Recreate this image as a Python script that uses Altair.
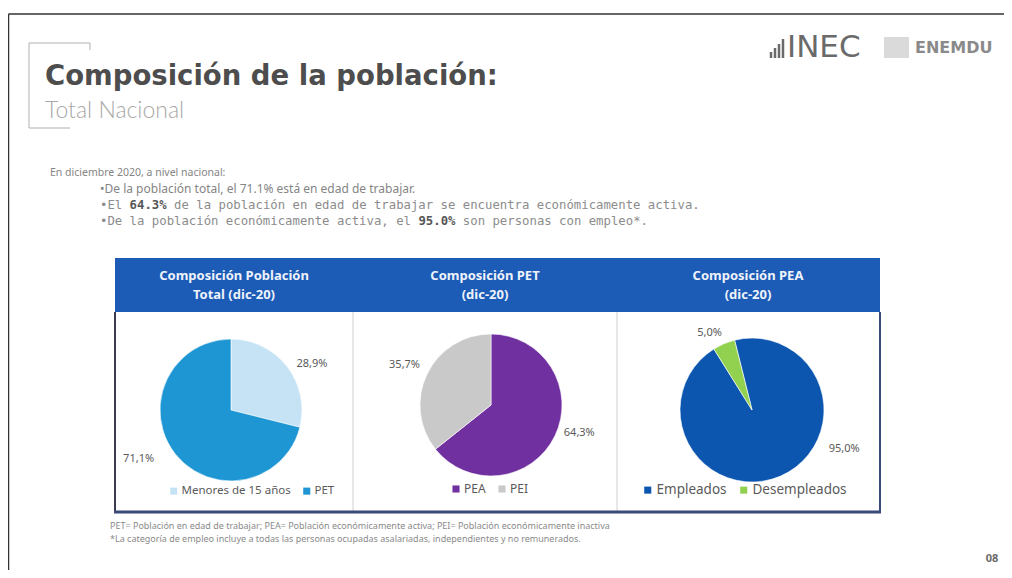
import math
import altair as alt
import pandas as pd

# ---------------- data ----------------
pie1_cats = ["Menores de 15 años", "PET"]
pie1_vals = [28.9, 71.1]
pie2_cats = ["PEA", "PEI"]
pie2_vals = [64.3, 35.7]
pie3_cats = ["Empleados", "Desempleados"]
pie3_vals = [95.0, 5.0]

headers = ["Composición Población\nTotal (dic-20)", "Composición PET\n(dic-20)", "Composición PEA\n(dic-20)"]
title_text = "Composición de la población:"
subtitle_text = "Total Nacional"
intro_text = "En diciembre 2020, a nivel nacional:"
bullets = [
    "•De la población total, el 71.1% está en edad de trabajar.",
    "•El 64.3% de la población en edad de trabajar se encuentra económicamente activa.",
    "•De la población económicamente activa, el 95.0% son personas con empleo*.",
]
bold_parts = ["71.1%", "64.3%", "95.0%"]
footnotes = [
    "PET= Población en edad de trabajar; PEA= Población económicamente activa; PEI= Población económicamente inactiva",
    "*La categoría de empleo incluye a todas las personas ocupadas asalariadas, independientes y no remunerados.",
]
page_number = "08"

# ---------------- helpers ----------------
OFF = 8  # page margin
FONT = "Noto Sans"
MONO = "DejaVu Sans Mono"
MONO_ADV = 1233 / 2048  # advance width of DejaVu Sans Mono, in em
one = pd.DataFrame({"k": [0]})


def P(v):
    return v - OFF


def txt(text, x, y, size=11, color="#6b6b6b", weight="normal", align="left", font=FONT, **kw):
    return alt.Chart(pd.DataFrame({"t": [text]})).mark_text(
        align=align, baseline="middle", fontSize=size, color=color,
        fontWeight=weight, font=font, **kw
    ).encode(text="t:N", x=alt.value(P(x)), y=alt.value(P(y)))


def mono_line(text, bold, x, y, size, color, bold_color):
    i = text.find(bold)
    j = i + len(bold)
    prefix = text[:i].rstrip()
    suffix = text[j:]
    lead = len(suffix) - len(suffix.lstrip())
    adv = MONO_ADV * size
    return [
        txt(prefix, x, y, size=size, color=color, font=MONO),
        txt(bold, x + i * adv, y, size=size, color=bold_color, font=MONO, weight="bold"),
        txt(suffix.lstrip(), x + (j + lead) * adv, y, size=size, color=color, font=MONO),
    ]


def rect(x1, y1, x2, y2, fill=None, stroke=None, sw=1):
    kw = {}
    if fill is not None:
        kw["fill"] = fill
    else:
        kw["fillOpacity"] = 0
    if stroke is not None:
        kw["stroke"] = stroke
        kw["strokeWidth"] = sw
    return alt.Chart(one).mark_rect(**kw).encode(
        x=alt.value(P(x1)), x2=alt.value(P(x2)), y=alt.value(P(y1)), y2=alt.value(P(y2))
    )


def rule(x1, y1, x2, y2, color="#999", sw=1):
    return alt.Chart(one).mark_rule(color=color, strokeWidth=sw).encode(
        x=alt.value(P(x1)), x2=alt.value(P(x2)), y=alt.value(P(y1)), y2=alt.value(P(y2))
    )


def pie(cats, vals, colors, cx, cy, r, rot_deg, label_specs, legend_xy, legend_size):
    df = pd.DataFrame({
        "cat": cats,
        "val": vals,
        "ord": list(range(len(cats))),
        "lbl": [f"{v:.1f}%".replace(".", ",") for v in vals],
    })
    rot = math.radians(rot_deg)
    tscale = alt.Scale(domain=[0, 100], range=[rot, rot + 2 * math.pi])
    base = alt.Chart(df)
    arc = base.mark_arc(outerRadius=r, stroke="white", strokeWidth=0.6).encode(
        theta=alt.Theta("val:Q", stack=True, scale=tscale),
        color=alt.Color(
            "cat:N",
            scale=alt.Scale(domain=cats, range=colors),
            sort=cats,
            legend=alt.Legend(
                orient="none", legendX=P(legend_xy[0]), legendY=P(legend_xy[1]),
                direction="horizontal", title=None, symbolType="square",
                symbolSize=50, labelFontSize=legend_size, labelColor="#5a5a5a",
                labelFont=FONT, columnPadding=10, symbolStrokeWidth=0,
                labelOffset=2,
            ),
        ),
        order=alt.Order("ord:Q"),
        x=alt.value(P(cx)),
        y=alt.value(P(cy)),
    )
    layers = [arc]
    for i, (rad, dx, dy) in enumerate(label_specs):
        lab = base.transform_window(
            cum="sum(val)", sort=[alt.SortField("ord")]
        ).transform_calculate(
            mid="datum.cum - datum.val / 2"
        ).transform_filter(
            alt.datum.ord == i
        ).mark_text(
            radius=rad, dx=dx, dy=dy, fontSize=11, color="#5a5a5a", font=FONT
        ).encode(
            theta=alt.Theta("mid:Q", stack=None, scale=tscale),
            text="lbl:N",
            x=alt.value(P(cx)),
            y=alt.value(P(cy)),
        )
        layers.append(lab)
    return alt.layer(*layers)


# ---------------- static slide elements ----------------
deco = [
    # outer slide frame
    rule(8.5, 14, 1008, 14, color="#333", sw=1.5),
    rule(8.5, 14, 8.5, 580, color="#333", sw=1.5),
    rule(1008, 14, 1008, 580, color="#333", sw=1.5),
    # bracket decoration
    rule(29, 43, 90, 43, color="#b0b0b0", sw=1),
    rule(90, 43, 90, 50, color="#b0b0b0", sw=1),
    rule(29, 43, 29, 128, color="#b0b0b0", sw=1),
    rule(29, 128, 70, 128, color="#b0b0b0", sw=1),
    # logo bars
    rule(771, 52, 771, 58, color="#6a6a6a", sw=2.5),
    rule(775, 48, 775, 58, color="#6a6a6a", sw=2.5),
    rule(779, 44, 779, 58, color="#6a6a6a", sw=2.5),
    rule(783, 39, 783, 58, color="#6a6a6a", sw=2.5),
    txt("INEC", 787, 48, size=31, color="#6a6a6a", font="DejaVu Sans"),
    rect(884, 37, 909, 58, fill="#dadada"),
    txt("ENEMDU", 915, 48, size=16, color="#8a8a8a", weight="bold", font="DejaVu Sans"),
    # titles
    txt(title_text, 45, 77, size=27.5, color="#4d4d4d", weight="bold", font="DejaVu Sans"),
    txt(subtitle_text, 45, 111, size=23, color="#a8a8a8", weight=300, font="Lato"),
    txt(intro_text, 50, 173, size=10.5, color="#858585"),
    txt(bullets[0], 100, 189, size=12, color="#858585"),
    *mono_line(bullets[1], bold_parts[1], 100, 205, 12.3, "#8c8c8c", "#555"),
    *mono_line(bullets[2], bold_parts[2], 100, 221, 12.3, "#8c8c8c", "#555"),
    # table
    rect(115, 312, 880, 512, fill="white"),
    rect(115, 258, 880, 312, fill="#1c5bb6"),
    rule(353, 312, 353, 512, color="#d0d0d0", sw=1),
    rule(617, 312, 617, 512, color="#d0d0d0", sw=1),
    rule(115, 312, 115, 512, color="#3a3a50", sw=2),
    rule(880, 312, 880, 512, color="#3a4a78", sw=2),
    rule(114, 512, 881, 512, color="#3a4a78", sw=3),
    txt(headers[0], 234, 276, size=13, color="#eef3fb", weight="bold", align="center", lineBreak="\n", lineHeight=19),
    txt(headers[1], 485, 276, size=13, color="#eef3fb", weight="bold", align="center", lineBreak="\n", lineHeight=19),
    txt(headers[2], 748, 276, size=13, color="#eef3fb", weight="bold", align="center", lineBreak="\n", lineHeight=19),
    # footnotes & page number
    txt(footnotes[0], 110, 526, size=9, color="#8a8a8a"),
    txt(footnotes[1], 110, 539, size=9, color="#8a8a8a"),
    txt(page_number, 992, 559, size=11, color="#6a6a6a", weight="bold", align="center"),
]

p1 = pie(pie1_cats, pie1_vals, ["#c6e3f5", "#1e96d4"], 231, 410, 71, 0,
         [(95, 6, 12), (102, -12, -14)], (168, 485), 11.5)
p2 = pie(pie2_cats, pie2_vals, ["#7030a0", "#c9c9c9"], 491, 405, 71, 0,
         [(98, 0, -15), (96, 0, 2)], (450, 483), 12)
p3 = pie(pie3_cats, pie3_vals, ["#0d56b0", "#92d050"], 752, 410, 72, -14,
         [(95, 55, -48), (88, -8, 4)], (641, 483), 13.5)

chart = alt.layer(*deco, p1, p2, p3).resolve_scale(
    theta="independent", color="independent"
).properties(
    width=996, height=562, padding=0,
    autosize=alt.AutoSizeParams(type="none"),
    background="white",
).configure_view(stroke=None)

chart.save("out.html", embed_options={"renderer": "svg", "actions": False})
